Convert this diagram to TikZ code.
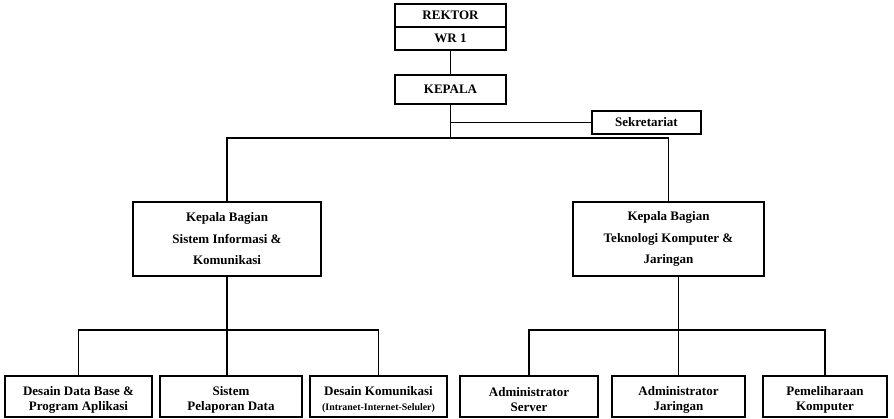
\documentclass[tikz,border=0pt]{standalone}
\usepackage{fontspec}
\setmainfont{Liberation Serif}
\begin{document}
\begin{tikzpicture}[x=1pt,y=-1pt,
  box/.style={draw=black,line width=1.6pt,fill=white,inner sep=0pt,align=center,
    font=\bfseries\fontsize{13}{15.5}\selectfont},
  headbox/.style={box,font=\bfseries\fontsize{13}{21.5}\selectfont},
  unitbox/.style={box,minimum height=41pt,text height=31pt},
  link/.style={draw=black,line width=1.6pt}]
% page frame
\path[use as bounding box,fill=white] (0,0) rectangle (894,419);

% top of the structure
\node[box,minimum width=111pt,minimum height=23pt] (rektor) at (450.5,15.5) {REKTOR};
\node[box,minimum width=111pt,minimum height=23pt] (wr) at (450.5,38.5) {WR 1};
\node[box,minimum width=111pt,minimum height=29pt] (kepala) at (450.5,89.5) {KEPALA};
\node[box,minimum width=109pt,minimum height=23pt] (sek) at (646.5,122.5) {Sekretariat};

% section heads
\node[headbox,minimum width=188pt,minimum height=74pt] (kbl) at (227,239)
  {Kepala Bagian\\Sistem Informasi \&\\Komunikasi};
\node[headbox,minimum width=191pt,minimum height=74pt] (kbr) at (668.5,239)
  {Kepala Bagian\\Teknologi Komputer \&\\Jaringan};

% units
\node[unitbox,minimum width=147pt] (b1) at (78.5,396.5)
  {Desain Data Base \&\\Program Aplikasi};
\node[unitbox,minimum width=142pt] (b2) at (231,396.5)
  {Sistem\\Pelaporan Data};
\node[unitbox,minimum width=137pt] (b3) at (378.5,396.5)
  {Desain Komunikasi\\{\fontsize{9.9}{15.5}\selectfont(Intranet-Internet-Seluler)}};
\node[unitbox,minimum width=138pt] (b4) at (529,396.5)
  {Administrator\\Server};
\node[unitbox,minimum width=133pt] (b5) at (678.5,396.5)
  {Administrator\\Jaringan};
\node[unitbox,minimum width=124pt] (b6) at (825,396.5)
  {Pemeliharaan\\Komputer};

% bus levels
\coordinate (bustop) at (0,138);
\coordinate (buslow) at (0,330);

% connectors
\draw[link] (wr.south) -- (kepala.north);
\draw[link] (kepala.south) -- (kepala.south |- bustop);
\draw[link] (kepala.south |- sek.west) -- (sek.west);
\draw[link] (kbl.north) |- (kbr.north |- bustop) -- (kbr.north);

\draw[link] (kbl.south) -- (kbl.south |- b2.north);
\draw[link] (b1.north) |- (b3.north |- buslow) -- (b3.north);

\draw[link] (b5.north |- kbr.south) -- (b5.north);
\draw[link] (b4.north) |- (b6.north |- buslow) -- (b6.north);
\end{tikzpicture}
\end{document}
